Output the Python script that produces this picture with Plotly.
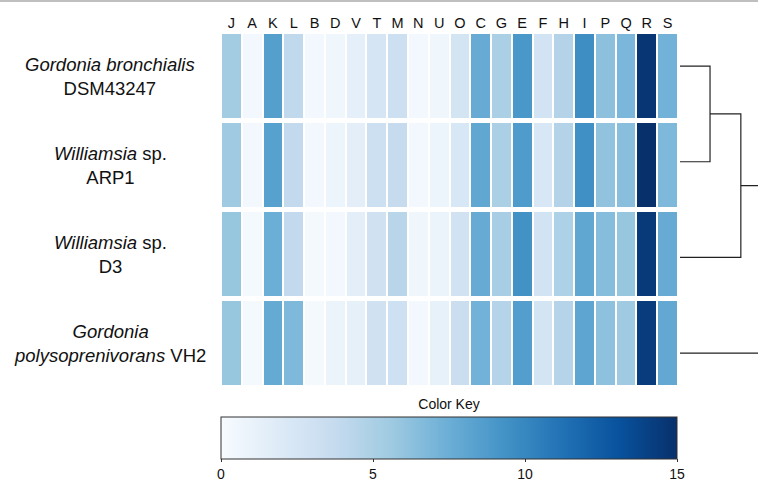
import plotly.graph_objects as go

columns = ["J", "A", "K", "L", "B", "D", "V", "T", "M", "N", "U",
           "O", "C", "G", "E", "F", "H", "I", "P", "Q", "R", "S"]

strains = [
    "<i>Gordonia bronchialis</i><br>DSM43247",
    "<i>Williamsia</i> sp.<br>ARP1",
    "<i>Williamsia</i> sp.<br>D3",
    "<i>Gordonia</i><br><i>polysoprenivorans</i> VH2",
]

g_bronchialis = [5.4, 0.3, 8.5, 4.0, 0.3, 0.6, 1.4, 2.6, 3.2, 0.3, 0.6,
                 2.7, 7.7, 5.0, 9.0, 2.8, 4.6, 9.6, 6.3, 6.9, 14.7, 7.2]
w_arp1 = [5.6, 0.3, 8.4, 3.9, 0.3, 0.8, 1.5, 3.2, 3.7, 0.4, 0.8,
          2.4, 8.0, 5.0, 8.8, 2.4, 4.6, 9.5, 6.1, 6.4, 15.0, 6.8]
w_d3 = [5.9, 0.2, 7.5, 3.9, 0.2, 0.3, 1.5, 3.0, 4.4, 0.6, 0.9,
        2.9, 7.7, 5.2, 9.4, 2.8, 4.9, 8.0, 6.5, 5.9, 14.5, 7.7]
g_polyiso = [5.9, 0.2, 7.8, 6.8, 0.2, 0.9, 1.3, 3.0, 3.1, 0.3, 1.2,
             3.4, 7.2, 4.5, 8.6, 2.7, 4.5, 8.1, 6.2, 5.6, 14.3, 7.9]

key_ticks = [0, 5, 10, 15]

# row dendrogram: [cluster a, cluster b, height]; ids >= 4 are merged clusters
merges = [[0, 1, 0.385], [4, 2, 0.78], [5, 3, 1.3]]

blues = ["#F7FBFF", "#DEEBF7", "#C6DBEF", "#9ECAE1", "#6BAED6",
         "#4292C6", "#2171B5", "#08519C", "#08306B"]
colorscale = [[i / (len(blues) - 1), c] for i, c in enumerate(blues)]

W, H = 758, 481
def px_x(p): return p / W
def px_y(p): return 1 - p / H

z = [g_bronchialis, w_arp1, w_d3, g_polyiso]

fig = go.Figure()
fig.add_trace(go.Heatmap(
    z=z, x=columns, y=list(range(len(strains))),
    colorscale=colorscale, zmin=0, zmax=15,
    xgap=2, ygap=5, hoverinfo="skip",
    colorbar=dict(
        orientation="h", x=px_x(449), xanchor="center",
        y=px_y(401), yanchor="top", yref="paper",
        lenmode="pixels", len=456, thicknessmode="pixels", thickness=42,
        xpad=0, ypad=0,
        outlinewidth=1, outlinecolor="#333333",
        ticks="outside", ticklen=3, tickcolor="#333333",
        tickvals=key_ticks, ticktext=[str(t) for t in key_ticks],
        tickfont=dict(size=14, color="#111111"),
        title=dict(text="Color Key", side="top", font=dict(size=14, color="#111111")),
    ),
))

# dendrogram
pos = {i: (0.0, float(i)) for i in range(len(strains))}
nid = len(strains)
dx, dy = [], []
for a, b, h in merges:
    (ha, ya), (hb, yb) = pos[a], pos[b]
    dx += [ha, h, h, hb, None]
    dy += [ya, ya, yb, yb, None]
    pos[nid] = (h, (ya + yb) / 2)
    nid += 1
fig.add_trace(go.Scatter(x=dx, y=dy, mode="lines", xaxis="x2", yaxis="y2",
                         line=dict(color="#222222", width=1.2),
                         hoverinfo="skip", showlegend=False))

for i, s in enumerate(strains):
    fig.add_annotation(text=s, x=px_x(110), xref="paper", y=i, yref="y",
                       xanchor="center", yanchor="middle", align="center",
                       showarrow=False, font=dict(size=18.5, color="#111111"))

fig.add_shape(type="line", xref="paper", yref="paper", x0=0, x1=1,
              y0=px_y(1), y1=px_y(1), line=dict(color="#aaaaaa", width=1.5))

fig.update_layout(
    width=W, height=H, margin=dict(l=0, r=0, t=0, b=0, autoexpand=False),
    paper_bgcolor="white", plot_bgcolor="white",
    font=dict(family="Liberation Sans, Arial, sans-serif", color="#111111"),
    xaxis=dict(domain=[px_x(221), px_x(678)], side="top", ticks="", ticklen=0,
               tickfont=dict(size=14.5), showgrid=False, zeroline=False,
               showline=False),
    yaxis=dict(domain=[px_y(388), px_y(32)], range=[3.5, -0.5],
               showticklabels=False, showgrid=False, zeroline=False),
    xaxis2=dict(domain=[px_x(680), 1], range=[0, 1], anchor="y2",
                visible=False),
    yaxis2=dict(domain=[px_y(401), px_y(18.2)], range=[3.5, -0.5],
                anchor="x2", visible=False),
    showlegend=False,
)

fig.write_html("out.html", config={"displayModeBar": False},
               post_script="document.body.style.margin='0';")
